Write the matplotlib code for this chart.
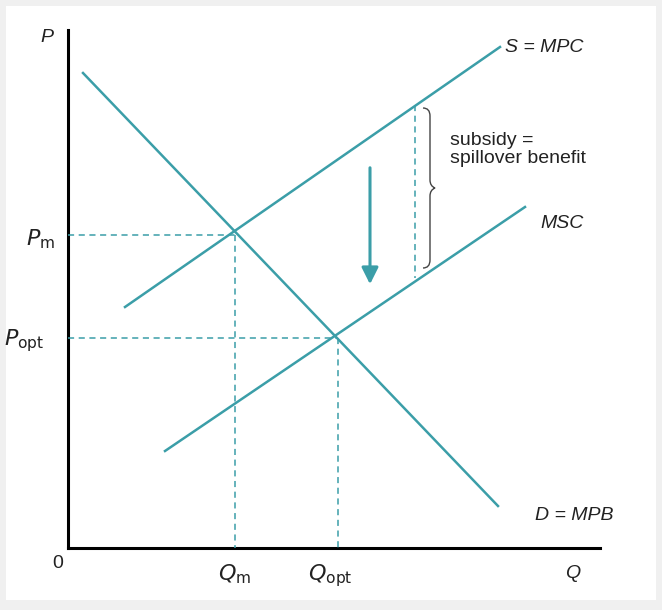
import matplotlib.pyplot as plt
from matplotlib.patches import Rectangle, PathPatch, FancyArrowPatch
from matplotlib.path import Path

# curve endpoints in chart pixel units (x right, y down)
demand = [(83, 73), (498, 506)]
supply_mpc = [(125, 307), (500, 47)]
supply_msc = [(165, 451), (525, 207)]
p_m, q_m = 235, 235
p_opt, q_opt = 338, 338
subsidy_x = 415

teal = "#3b9ea8"
W, H = 662, 610

fig = plt.figure(figsize=(W / 100, H / 100), dpi=100)
fig.patch.set_facecolor("#f0f0f0")
ax = fig.add_axes([0, 0, 1, 1])
ax.set_xlim(0, W)
ax.set_ylim(H, 0)
ax.axis("off")
ax.add_patch(Rectangle((6, 6), 650, 594, facecolor="white", edgecolor="none"))

# axes
ax.plot([68, 68], [30, 548], color="black", lw=2.2)
ax.plot([68, 600], [548, 548], color="black", lw=2.2)

for seg in (demand, supply_mpc, supply_msc):
    ax.plot([seg[0][0], seg[1][0]], [seg[0][1], seg[1][1]], color=teal, lw=1.8)

dash = dict(color=teal, lw=1.1, ls=(0, (4, 3)))
ax.plot([68, q_m], [p_m, p_m], **dash)
ax.plot([q_m, q_m], [p_m, 548], **dash)
ax.plot([68, q_opt], [p_opt, p_opt], **dash)
ax.plot([q_opt, q_opt], [p_opt, 548], **dash)
ax.plot([subsidy_x, subsidy_x], [105, 278], **dash)

# brace
x0, top, bot = 423, 108, 268
mid = (top + bot) / 2
verts = [(x0, top), (x0 + 7, top), (x0 + 7, top + 8), (x0 + 7, mid - 8),
         (x0 + 7, mid - 2), (x0 + 12, mid), (x0 + 7, mid + 2),
         (x0 + 7, mid + 8), (x0 + 7, bot - 8), (x0 + 7, bot), (x0, bot)]
codes = [Path.MOVETO, Path.CURVE3, Path.CURVE3, Path.LINETO,
         Path.CURVE3, Path.CURVE3, Path.CURVE3, Path.CURVE3, Path.LINETO,
         Path.CURVE3, Path.CURVE3]
ax.add_patch(PathPatch(Path(verts, codes), facecolor="none", edgecolor="#444444", lw=1.0))

ax.add_patch(FancyArrowPatch((370, 165), (370, 287), arrowstyle="-|>,head_length=10,head_width=5",
                             color=teal, lw=2.2, mutation_scale=1))

txt = dict(fontsize=14, color="#222222", family="Liberation Sans")
ax.text(40, 42, "P", style="italic", **txt)
ax.text(26, 245, r"$P_{\mathrm{m}}$", fontsize=16, color="#222222", ha="left")
ax.text(4, 345, r"$P_{\mathrm{opt}}$", fontsize=16, color="#222222", ha="left")
ax.text(52, 568, "0", **txt)
ax.text(q_m, 580, r"$Q_{\mathrm{m}}$", fontsize=16, color="#222222", ha="center")
ax.text(q_opt - 8, 580, r"$Q_{\mathrm{opt}}$", fontsize=16, color="#222222", ha="center")
ax.text(565, 578, "Q", style="italic", **txt)
ax.text(505, 52, "S = MPC", style="italic", **txt)
ax.text(540, 228, "MSC", style="italic", **txt)
ax.text(535, 520, "D = MPB", style="italic", **txt)
ax.text(450, 163, "subsidy =\nspillover benefit", linespacing=1.1, **txt)

fig.savefig("out.png", dpi=100, facecolor=fig.get_facecolor())
